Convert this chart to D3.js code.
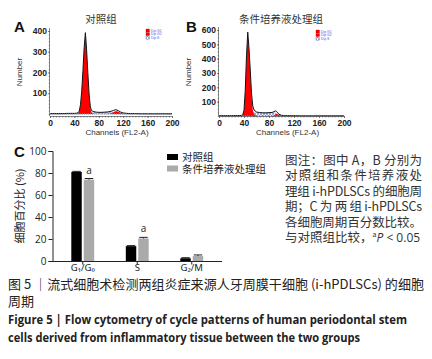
<!DOCTYPE html>
<html><head><meta charset="utf-8">
<script src="https://cdn.jsdelivr.net/npm/d3@7"></script>
<style>body{margin:0;background:#fff}svg{display:block}</style>
</head><body>
<svg id="c" width="432" height="359"></svg>
<script>
// ---------- Data ----------
// Panel A (control) histogram
const channelsA = [0,10,20,30,40,44,46,48,50,52,54,56,58,60,62,64,66,68,72,76,80,85,90,95,100,104,108,112,116,120,126,132,140,150,160,170,180,190,200];
const countsA   = [2,2,2,3,3,4,6,14,45,110,210,320,392,310,200,100,38,16,11,9,8,8,9,10,13,17,21,16,9,5,3,2,2,1,1,1,1,1,1];
const g1FitA    = [0,0,0,0,0,0,2,12,43,106,205,314,386,304,194,94,30,6,0,0,0,0,0,0,0,0,0,0,0,0,0,0,0,0,0,0,0,0,0];
const sFitA     = [0,0,0,0,0,0,0,0,0,1,2,4,6,7,7,7,7,7,7,7,7,7,7,7,7,6,5,3,1,0,0,0,0,0,0,0,0,0,0];
const g2FitA    = [0,0,0,0,0,0,0,0,0,0,0,0,0,0,0,0,0,0,0,0,0,0,0,0,3,9,14,11,5,1,0,0,0,0,0,0,0,0,0];
// Panel B (conditioned medium) histogram
const channelsB = [0,10,20,30,36,38,40,42,44,46,48,50,52,54,56,60,65,70,75,80,85,88,90,92,94,96,100,105,110,120,130,140,150,160,170,180,190,200];
const countsB   = [2,2,2,3,4,8,40,180,420,585,470,320,160,70,42,28,24,22,22,23,25,30,36,32,22,12,5,3,2,2,1,1,1,1,1,1,1,1];
const g1FitB    = [0,0,0,0,0,5,36,172,410,575,460,305,140,45,12,0,0,0,0,0,0,0,0,0,0,0,0,0,0,0,0,0,0,0,0,0,0,0];
const sFitB     = [0,0,0,0,0,0,0,0,4,10,16,20,22,22,22,22,22,22,22,22,22,22,20,16,10,4,0,0,0,0,0,0,0,0,0,0,0,0];
const g2FitB    = [0,0,0,0,0,0,0,0,0,0,0,0,0,0,0,0,0,0,0,0,0,3,10,14,12,7,2,0,0,0,0,0,0,0,0,0,0,0];
const histXTicks = [0,40,80,120,160,200];
const histYTicksA = [100,200,300,400];
const histYTicksB = [100,200,300,400,500,600];
const legendHist = ["Dip G1","Dip G2","Dip S"];

// Panel C bar chart
const phases = ["G₁/G₀","S","G₂/M"];
const groups = ["对照组","条件培养液处理组"];
const controlVals = [81,13.5,2.5];
const controlErr  = [0.5,0.5,0.5];
const treatedVals = [74,20.5,4.5];
const treatedErr  = [1,1,1];
const sigMarks    = ["a","a",""];
const barYTicks = [0,20,40,60,80,100];

const noteLines = ["图注：图中 A，B 分别为","对照组和条件培养液处","理组 i-hPDLSCs 的细胞周","期；C 为 两 组 i-hPDLSCs","各细胞周期百分数比较。"];

// ---------- Drawing ----------
const svg = d3.select("#c");
const defs = svg.append("defs");
const pat = defs.append("pattern").attr("id","hatch").attr("patternUnits","userSpaceOnUse")
  .attr("width",3).attr("height",3);
pat.append("rect").attr("width",3).attr("height",3).attr("fill","#fff");
pat.append("path").attr("d","M0,3L3,0M0,0L3,3").attr("stroke","#5a6fd8").attr("stroke-width",0.6);

const cjk = "'Noto Sans CJK SC','Noto Sans',sans-serif";
const sans = "'Liberation Sans',Arial,sans-serif";
const open = "'Open Sans',sans-serif";

function histPanel(cfg){
  const g = svg.append("g");
  const x = d3.scaleLinear().domain([0,200]).range([cfg.x0,cfg.x1]);
  const y = d3.scaleLinear().domain([0,cfg.ymax]).range([cfg.y0,cfg.ytop]);
  const base = cfg.base;
  const pts = (arr)=>cfg.ch.map((c,i)=>[c,arr[i]]);
  const area = d3.area().x(d=>x(d[0])).y0(y(0)).y1(d=>y(d[1]));
  const line = d3.line().x(d=>x(d[0])).y(d=>y(d[1]));
  g.append("path").attr("d",area(pts(cfg.s))).attr("fill","url(#hatch)").attr("stroke","#6a78c8").attr("stroke-width",0.4);
  g.append("path").attr("d",area(pts(cfg.g1))).attr("fill","#ff0000");
  g.append("path").attr("d",area(pts(cfg.g2))).attr("fill","#ff0000");
  g.append("path").attr("d",line(pts(cfg.counts))).attr("fill","none").attr("stroke","#111").attr("stroke-width",1);
  g.append("line").attr("x1",cfg.x0).attr("x2",cfg.x1).attr("y1",y(0)).attr("y2",y(0))
    .attr("stroke","#999").attr("stroke-width",0.8).attr("stroke-dasharray","1,1");
  const xa = g.append("g").attr("transform",`translate(0,${base})`)
    .call(d3.axisBottom(x).tickValues(histXTicks).tickSize(2).tickPadding(2));
  const xm = g.append("g").attr("transform",`translate(0,${base})`)
    .call(d3.axisBottom(x).tickValues(d3.range(0,201,5)).tickSize(1.5).tickFormat(""));
  xm.select(".domain").remove();
  const ya = g.append("g").attr("transform",`translate(${cfg.x0},0)`)
    .call(d3.axisLeft(y).tickValues(cfg.yt).tickSize(2).tickPadding(1));
  const ym = g.append("g").attr("transform",`translate(${cfg.x0},0)`)
    .call(d3.axisLeft(y).tickValues(d3.range(0,cfg.ymax+1,cfg.ymax/24)).tickSize(1.2).tickFormat(""));
  ym.select(".domain").remove();
  [xa,ya,xm,ym].forEach(a=>{a.selectAll("path,line").attr("stroke","#555").attr("stroke-width",0.7);});
  ya.select(".domain").attr("d",`M-0.5,${base}V${cfg.ytop-3}`);
  xa.select(".domain").attr("d",`M${cfg.x0},0.5H${cfg.x1}`);
  [xa,ya].forEach(a=>a.selectAll("text").attr("font-family",sans).attr("font-size",cfg.fs).attr("font-weight","bold").attr("fill","#222"));
  g.append("text").attr("x",(cfg.x0+cfg.x1)/2+6).attr("y",base+19).attr("text-anchor","middle")
    .attr("font-family",sans).attr("font-size",8).attr("fill","#333").text("Channels (FL2-A)");
  g.append("text").attr("transform",`translate(${cfg.numX},72) rotate(-90)`).attr("text-anchor","middle")
    .attr("font-family",sans).attr("font-size",8).attr("fill","#333").text("Number");
  g.append("text").attr("x",cfg.titleX).attr("y",23).attr("text-anchor","middle")
    .attr("font-family",cjk).attr("font-size",10.5).attr("fill","#333").text(cfg.title);
  g.append("text").attr("x",cfg.letterX).attr("y",32).attr("font-family",sans).attr("font-weight","bold")
    .attr("font-size",15).attr("fill","#111").text(cfg.letter);
  const lg = g.append("g").attr("transform",`translate(${cfg.legX},${cfg.legY})`);
  legendHist.forEach((t,i)=>{
    lg.append("rect").attr("x",0).attr("y",i*3.6).attr("width",3.5).attr("height",3)
      .attr("fill", i<2 ? "#ff0000" : "url(#hatch)").attr("stroke", i<2?"#900":"#555").attr("stroke-width",0.3);
    lg.append("text").attr("x",5).attr("y",i*3.6+2.8).attr("font-family",sans).attr("font-size",3.4)
      .attr("fill","#4455ee").text(t);
  });
}

histPanel({x0:50,x1:172,y0:114,ytop:31,base:116,ymax:400,yt:histYTicksA,ch:channelsA,counts:countsA,g1:g1FitA,s:sFitA,g2:g2FitA,
  fs:8.5,numX:22,titleX:101,title:"对照组",letter:"A",letterX:14,legX:146,legY:29});
histPanel({x0:219,x1:344,y0:116,ytop:30,base:116,ymax:600,yt:histYTicksB,ch:channelsB,counts:countsB,g1:g1FitB,s:sFitB,g2:g2FitB,
  fs:8.5,numX:191,titleX:281,title:"条件培养液处理组",letter:"B",letterX:186,legX:316,legY:30});

// Panel C
const gc = svg.append("g");
const xb = d3.scaleBand().domain(phases).range([52.5,222]).paddingInner(0.58).paddingOuter(0.345);
const xs = d3.scaleBand().domain([0,1]).range([0,xb.bandwidth()]).paddingInner(0.16);
const yb = d3.scaleLinear().domain([0,100]).range([261,151]);
const series = [{v:controlVals,e:controlErr,c:"#000"},{v:treatedVals,e:treatedErr,c:"#aaaaaa"}];
series.forEach((s,si)=>{
  phases.forEach((p,i)=>{
    const bx = xb(p)+xs(si), bw = xs.bandwidth();
    gc.append("rect").attr("x",bx).attr("y",yb(s.v[i])).attr("width",bw).attr("height",yb(0)-yb(s.v[i])).attr("fill",s.c);
    const cx = bx+bw/2;
    gc.append("line").attr("x1",cx).attr("x2",cx).attr("y1",yb(s.v[i])).attr("y2",yb(s.v[i]+s.e[i])).attr("stroke","#222").attr("stroke-width",1);
    gc.append("line").attr("x1",bx+1).attr("x2",bx+bw-1).attr("y1",yb(s.v[i]+s.e[i])).attr("y2",yb(s.v[i]+s.e[i])).attr("stroke","#222").attr("stroke-width",1);
    if(si===1 && sigMarks[i]) gc.append("text").attr("x",cx).attr("y",yb(s.v[i]+s.e[i])-5).attr("text-anchor","middle")
      .attr("font-family",open).attr("font-size",10).attr("fill","#222").text(sigMarks[i]);
  });
});
const yaxC = gc.append("g").attr("transform","translate(52.5,0)")
  .call(d3.axisLeft(yb).tickValues(barYTicks).tickSize(4).tickPadding(2));
const xaxC = gc.append("g").attr("transform","translate(0,261.5)")
  .call(d3.axisBottom(xb).tickSize(3).tickPadding(0));
xaxC.select(".domain").attr("d","M52.5,0H222");
[yaxC,xaxC].forEach(a=>a.selectAll("path,line").attr("stroke","#222").attr("stroke-width",1));
yaxC.selectAll("text").attr("font-family",open).attr("font-size",10).attr("fill","#222");
xaxC.selectAll("text").attr("font-family","'Noto Sans','DejaVu Sans',sans-serif").attr("font-size",9.5).attr("fill","#222");
gc.append("text").attr("transform","translate(24,206) rotate(-90)").attr("text-anchor","middle")
  .attr("font-family",cjk).attr("font-size",11).attr("fill","#222").text("细胞百分比 (%)");
gc.append("text").attr("x",14).attr("y",157).attr("font-family",sans).attr("font-weight","bold")
  .attr("font-size",15).attr("fill","#111").text("C");
groups.forEach((gname,i)=>{
  gc.append("rect").attr("x",167).attr("y",154+i*11.5).attr("width",11).attr("height",6).attr("fill",series[i].c);
  gc.append("text").attr("x",182).attr("y",161+i*11.5).attr("font-family",cjk).attr("font-size",10.5)
    .attr("fill","#222").text(gname);
});

// Notes
const ng = svg.append("g").attr("font-family",cjk).attr("font-size",12.5).attr("fill","#333");
noteLines.forEach((t,i)=>{
  ng.append("text").attr("x",285).attr("y",165+i*15.4).attr("textLength",137).attr("lengthAdjust","spacing").text(t);
});
const last = ng.append("text").attr("x",285).attr("y",165+5*15.4);
last.append("tspan").text("与对照组比较，");
last.append("tspan").attr("font-size",7).attr("baseline-shift","super").text("a");
last.append("tspan").attr("font-style","italic").attr("font-family",open).attr("font-size",12).text("P");
last.append("tspan").attr("font-family",open).attr("font-size",12).text(" < 0.05");

// Caption
const cap = svg.append("g").attr("fill","#222");
cap.append("text").attr("x",8).attr("y",289).attr("font-family",cjk).attr("font-size",13)
  .attr("textLength",416).attr("lengthAdjust","spacingAndGlyphs").text("图 5 ｜流式细胞术检测两组炎症来源人牙周膜干细胞 (i-hPDLSCs) 的细胞");
cap.append("text").attr("x",8).attr("y",306).attr("font-family",cjk).attr("font-size",13).text("周期");
cap.append("text").attr("x",8).attr("y",324).attr("font-family",open).attr("font-weight","bold").attr("font-size",12)
  .attr("textLength",399).attr("lengthAdjust","spacingAndGlyphs").text("Figure 5  |  Flow cytometry of cycle patterns of human periodontal stem");
cap.append("text").attr("x",8).attr("y",342).attr("font-family",open).attr("font-weight","bold").attr("font-size",12)
  .attr("textLength",352).attr("lengthAdjust","spacingAndGlyphs").text("cells derived from inflammatory tissue between the two groups");
</script>
</body></html>
